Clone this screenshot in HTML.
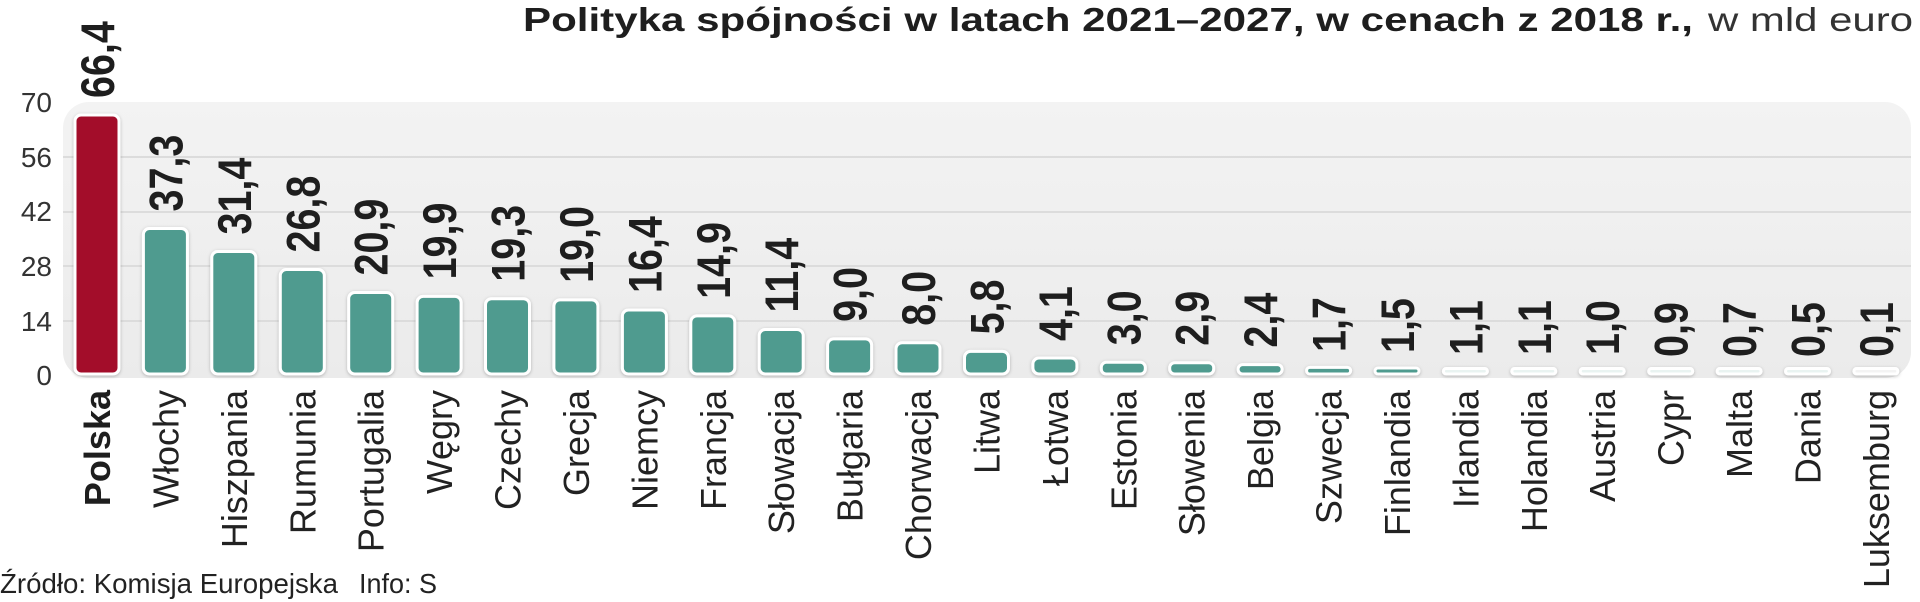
<!DOCTYPE html>
<html><head><meta charset="utf-8"><style>
html,body{margin:0;padding:0;background:#fff;}
svg{display:block;}
.v{font-family:"Liberation Sans",sans-serif;font-weight:bold;font-size:47px;fill:#1e1e1e;}
.c{font-family:"Liberation Sans",sans-serif;font-size:36px;fill:#222;text-anchor:end;}
.b{fill:#4f9b8f;stroke:#fff;stroke-width:3;}
</style></head><body>
<svg width="1920" height="602" viewBox="0 0 1920 602" xmlns="http://www.w3.org/2000/svg">
<defs>
<linearGradient id="pg" x1="0" y1="0" x2="0" y2="1"><stop offset="0" stop-color="#f3f3f3"/><stop offset="1" stop-color="#ebebeb"/></linearGradient>
<filter id="sh" x="-20%" y="-20%" width="140%" height="140%"><feDropShadow dx="0" dy="1" stdDeviation="1.5" flood-color="#000" flood-opacity="0.25"/></filter>
</defs>
<text x="523" y="31" font-family="Liberation Sans, sans-serif" font-weight="bold" font-size="33" fill="#1e1e1e" textLength="1170" lengthAdjust="spacingAndGlyphs">Polityka spójności w latach 2021–2027, w cenach z 2018 r.,</text>
<text x="1708" y="31" font-family="Liberation Sans, sans-serif" font-size="33" fill="#333" textLength="205" lengthAdjust="spacingAndGlyphs">w mld euro</text>
<rect x="63" y="102" width="1848" height="276" rx="26" fill="url(#pg)"/>
<g stroke="#dcdcdc" stroke-width="2">
<line x1="63" x2="1911" y1="157" y2="157"/><line x1="63" x2="1911" y1="212" y2="212"/><line x1="63" x2="1911" y1="266" y2="266"/><line x1="63" x2="1911" y1="321" y2="321"/>
</g>
<g font-family="Liberation Sans, sans-serif" font-size="28" fill="#333" text-anchor="end">
<text x="52" y="112">70</text><text x="52" y="167">56</text><text x="52" y="221">42</text><text x="52" y="276">28</text><text x="52" y="331">14</text><text x="52" y="385">0</text>
</g>
<g filter="url(#sh)">
<rect x="75" y="115" width="44" height="259" rx="6" fill="#a30e2b" stroke="#fff" stroke-width="3"/>
<rect class="b" x="143.4" y="228.5" width="44" height="145.5" rx="6"/>
<rect class="b" x="211.8" y="251.5" width="44" height="122.5" rx="6"/>
<rect class="b" x="280.3" y="269.5" width="44" height="104.5" rx="6"/>
<rect class="b" x="348.7" y="292.5" width="44" height="81.5" rx="6"/>
<rect class="b" x="417.1" y="296.4" width="44" height="77.6" rx="6"/>
<rect class="b" x="485.5" y="298.7" width="44" height="75.3" rx="6"/>
<rect class="b" x="553.9" y="299.9" width="44" height="74.1" rx="6"/>
<rect class="b" x="622.4" y="310" width="44" height="64" rx="6"/>
<rect class="b" x="690.8" y="315.9" width="44" height="58.1" rx="6"/>
<rect class="b" x="759.2" y="329.5" width="44" height="44.5" rx="6"/>
<rect class="b" x="827.6" y="338.9" width="44" height="35.1" rx="6"/>
<rect class="b" x="896" y="342.8" width="44" height="31.2" rx="6"/>
<rect class="b" x="964.5" y="351.4" width="44" height="22.6" rx="6"/>
<rect class="b" x="1032.9" y="358" width="44" height="16" rx="6"/>
<rect class="b" x="1101.3" y="362.3" width="44" height="11.7" rx="5"/>
<rect class="b" x="1169.7" y="362.7" width="44" height="11.3" rx="5"/>
<rect class="b" x="1238.1" y="364.6" width="44" height="9.4" rx="4.5"/>
<rect class="b" x="1306.6" y="367.4" width="44" height="6.6" rx="3.3"/>
<rect class="b" x="1375" y="368" width="44" height="6" rx="3"/>
<rect class="b" x="1443.4" y="368.5" width="44" height="5.5" rx="2.7" style="fill:#e9f3f1"/>
<rect class="b" x="1511.8" y="368.5" width="44" height="5.5" rx="2.7" style="fill:#e9f3f1"/>
<rect class="b" x="1580.2" y="368.5" width="44" height="5.5" rx="2.7" style="fill:#e9f3f1"/>
<rect class="b" x="1648.7" y="368.5" width="44" height="5.5" rx="2.7" style="fill:#e9f3f1"/>
<rect class="b" x="1717.1" y="368.5" width="44" height="5.5" rx="2.7" style="fill:#e9f3f1"/>
<rect class="b" x="1785.5" y="368.5" width="44" height="5.5" rx="2.7" style="fill:#e9f3f1"/>
<rect class="b" x="1853.9" y="368.5" width="44" height="5.5" rx="2.7" style="fill:#f3f3f3"/>
</g>
<text class="v" transform="translate(114,98) rotate(-90) scale(0.84,1)">66,4</text>
<text class="v" transform="translate(182.4,211.5) rotate(-90) scale(0.84,1)">37,3</text>
<text class="v" transform="translate(250.8,234.5) rotate(-90) scale(0.84,1)">31,4</text>
<text class="v" transform="translate(319.3,252.5) rotate(-90) scale(0.84,1)">26,8</text>
<text class="v" transform="translate(387.7,275.5) rotate(-90) scale(0.84,1)">20,9</text>
<text class="v" transform="translate(456.1,279.4) rotate(-90) scale(0.84,1)">19,9</text>
<text class="v" transform="translate(524.5,281.7) rotate(-90) scale(0.84,1)">19,3</text>
<text class="v" transform="translate(592.9,282.9) rotate(-90) scale(0.84,1)">19,0</text>
<text class="v" transform="translate(661.4,293) rotate(-90) scale(0.84,1)">16,4</text>
<text class="v" transform="translate(729.8,298.9) rotate(-90) scale(0.84,1)">14,9</text>
<text class="v" transform="translate(798.2,312.5) rotate(-90) scale(0.84,1)">11,4</text>
<text class="v" transform="translate(866.6,321.9) rotate(-90) scale(0.84,1)">9,0</text>
<text class="v" transform="translate(935,325.8) rotate(-90) scale(0.84,1)">8,0</text>
<text class="v" transform="translate(1003.5,334.4) rotate(-90) scale(0.84,1)">5,8</text>
<text class="v" transform="translate(1071.9,341) rotate(-90) scale(0.84,1)">4,1</text>
<text class="v" transform="translate(1140.3,345.3) rotate(-90) scale(0.84,1)">3,0</text>
<text class="v" transform="translate(1208.7,345.7) rotate(-90) scale(0.84,1)">2,9</text>
<text class="v" transform="translate(1277.1,347.6) rotate(-90) scale(0.84,1)">2,4</text>
<text class="v" transform="translate(1345.6,352) rotate(-90) scale(0.84,1)">1,7</text>
<text class="v" transform="translate(1414,353) rotate(-90) scale(0.84,1)">1,5</text>
<text class="v" transform="translate(1482.4,355) rotate(-90) scale(0.84,1)">1,1</text>
<text class="v" transform="translate(1550.8,355) rotate(-90) scale(0.84,1)">1,1</text>
<text class="v" transform="translate(1619.2,355) rotate(-90) scale(0.84,1)">1,0</text>
<text class="v" transform="translate(1687.7,357) rotate(-90) scale(0.84,1)">0,9</text>
<text class="v" transform="translate(1756.1,357) rotate(-90) scale(0.84,1)">0,7</text>
<text class="v" transform="translate(1824.5,357) rotate(-90) scale(0.84,1)">0,5</text>
<text class="v" transform="translate(1892.9,357) rotate(-90) scale(0.84,1)">0,1</text>
<text class="c" transform="translate(110,390) rotate(-90)" style="font-weight:bold;fill:#1e1e1e">Polska</text>
<text class="c" transform="translate(178.4,390) rotate(-90)">Włochy</text>
<text class="c" transform="translate(246.8,390) rotate(-90)">Hiszpania</text>
<text class="c" transform="translate(315.3,390) rotate(-90)">Rumunia</text>
<text class="c" transform="translate(383.7,390) rotate(-90)">Portugalia</text>
<text class="c" transform="translate(452.1,390) rotate(-90)">Węgry</text>
<text class="c" transform="translate(520.5,390) rotate(-90)">Czechy</text>
<text class="c" transform="translate(588.9,390) rotate(-90)">Grecja</text>
<text class="c" transform="translate(657.4,390) rotate(-90)">Niemcy</text>
<text class="c" transform="translate(725.8,390) rotate(-90)">Francja</text>
<text class="c" transform="translate(794.2,390) rotate(-90)">Słowacja</text>
<text class="c" transform="translate(862.6,390) rotate(-90)">Bułgaria</text>
<text class="c" transform="translate(931,390) rotate(-90)">Chorwacja</text>
<text class="c" transform="translate(999.5,390) rotate(-90)">Litwa</text>
<text class="c" transform="translate(1067.9,390) rotate(-90)">Łotwa</text>
<text class="c" transform="translate(1136.3,390) rotate(-90)">Estonia</text>
<text class="c" transform="translate(1204.7,390) rotate(-90)">Słowenia</text>
<text class="c" transform="translate(1273.1,390) rotate(-90)">Belgia</text>
<text class="c" transform="translate(1341.6,390) rotate(-90)">Szwecja</text>
<text class="c" transform="translate(1410,390) rotate(-90)">Finlandia</text>
<text class="c" transform="translate(1478.4,390) rotate(-90)">Irlandia</text>
<text class="c" transform="translate(1546.8,390) rotate(-90)">Holandia</text>
<text class="c" transform="translate(1615.2,390) rotate(-90)">Austria</text>
<text class="c" transform="translate(1683.7,390) rotate(-90)">Cypr</text>
<text class="c" transform="translate(1752.1,390) rotate(-90)">Malta</text>
<text class="c" transform="translate(1820.5,390) rotate(-90)">Dania</text>
<text class="c" transform="translate(1888.9,390) rotate(-90)">Luksemburg</text>
<text x="0" y="593" font-family="Liberation Sans, sans-serif" font-size="28" fill="#222" textLength="338" lengthAdjust="spacingAndGlyphs">Źródło: Komisja Europejska</text>
<text x="359" y="593" font-family="Liberation Sans, sans-serif" font-size="28" fill="#222" textLength="78" lengthAdjust="spacingAndGlyphs">Info: S</text>
</svg>
</body></html>
